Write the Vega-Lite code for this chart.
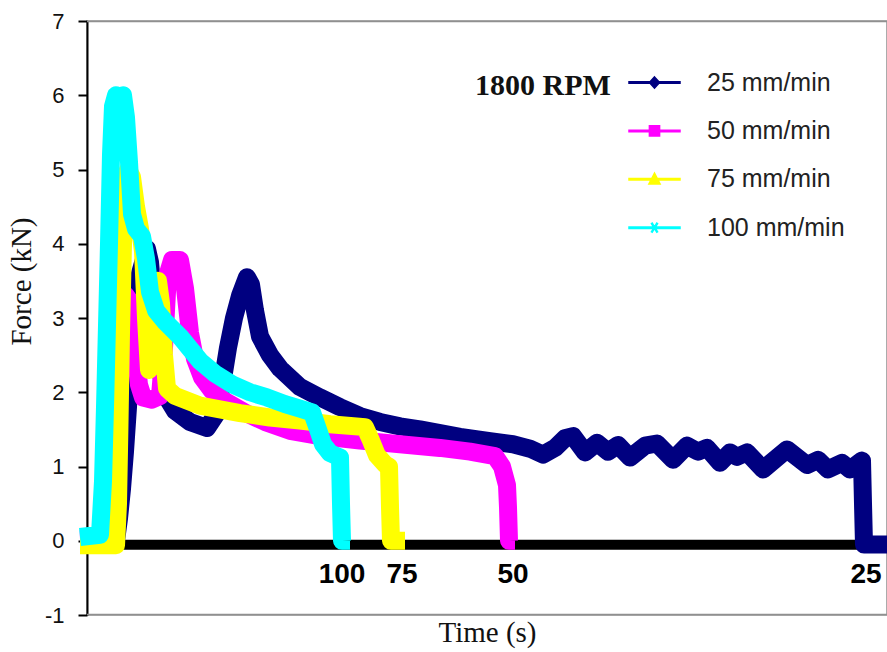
{
  "$schema": "https://vega.github.io/schema/vega-lite/v6.json",
  "width": 800,
  "height": 594,
  "autosize": {"type": "none"},
  "padding": {"left": 87, "top": 21, "right": 0, "bottom": 37},
  "config": {"view": {"stroke": "#909090", "strokeWidth": 1.5}, "font": "Liberation Sans"},
  "datasets": {
    "series": [
      {"s":"25 mm/min","t":-1.75,"f":0},{"s":"25 mm/min","t":3.25,"f":0},{"s":"25 mm/min","t":7.25,"f":0},{"s":"25 mm/min","t":8,"f":0.3},{"s":"25 mm/min","t":8.75,"f":0.7},{"s":"25 mm/min","t":9.5,"f":1.2},{"s":"25 mm/min","t":10.25,"f":1.8},{"s":"25 mm/min","t":11,"f":2.5},{"s":"25 mm/min","t":12,"f":3.1},{"s":"25 mm/min","t":13.25,"f":3.6},{"s":"25 mm/min","t":15,"f":3.93},{"s":"25 mm/min","t":15.75,"f":3.75},{"s":"25 mm/min","t":17,"f":3.0},{"s":"25 mm/min","t":18.25,"f":2.3},{"s":"25 mm/min","t":19.75,"f":1.95},{"s":"25 mm/min","t":22,"f":1.75},{"s":"25 mm/min","t":25.75,"f":1.6},{"s":"25 mm/min","t":30,"f":1.52},{"s":"25 mm/min","t":32.25,"f":1.7},{"s":"25 mm/min","t":33.75,"f":2.1},{"s":"25 mm/min","t":35.25,"f":2.6},{"s":"25 mm/min","t":36.75,"f":3.0},{"s":"25 mm/min","t":38.25,"f":3.3},{"s":"25 mm/min","t":40,"f":3.55},{"s":"25 mm/min","t":41,"f":3.45},{"s":"25 mm/min","t":42,"f":3.1},{"s":"25 mm/min","t":43.25,"f":2.75},{"s":"25 mm/min","t":45.75,"f":2.5},{"s":"25 mm/min","t":48.25,"f":2.32},{"s":"25 mm/min","t":53.25,"f":2.07},{"s":"25 mm/min","t":58.25,"f":1.93},{"s":"25 mm/min","t":63.25,"f":1.8},{"s":"25 mm/min","t":68.25,"f":1.68},{"s":"25 mm/min","t":73.25,"f":1.6},{"s":"25 mm/min","t":78.25,"f":1.54},{"s":"25 mm/min","t":83.25,"f":1.5},{"s":"25 mm/min","t":88.25,"f":1.45},{"s":"25 mm/min","t":93.25,"f":1.4},{"s":"25 mm/min","t":100.75,"f":1.34},{"s":"25 mm/min","t":106.5,"f":1.3},{"s":"25 mm/min","t":110.75,"f":1.24},{"s":"25 mm/min","t":114,"f":1.16},{"s":"25 mm/min","t":117,"f":1.25},{"s":"25 mm/min","t":119.5,"f":1.38},{"s":"25 mm/min","t":121.5,"f":1.41},{"s":"25 mm/min","t":124.5,"f":1.19},{"s":"25 mm/min","t":127.5,"f":1.32},{"s":"25 mm/min","t":130.25,"f":1.2},{"s":"25 mm/min","t":132.75,"f":1.29},{"s":"25 mm/min","t":135.75,"f":1.12},{"s":"25 mm/min","t":139.5,"f":1.28},{"s":"25 mm/min","t":142.5,"f":1.31},{"s":"25 mm/min","t":146.5,"f":1.09},{"s":"25 mm/min","t":150,"f":1.28},{"s":"25 mm/min","t":152.75,"f":1.2},{"s":"25 mm/min","t":155,"f":1.25},{"s":"25 mm/min","t":158.25,"f":1.05},{"s":"25 mm/min","t":160.75,"f":1.19},{"s":"25 mm/min","t":162.5,"f":1.13},{"s":"25 mm/min","t":165,"f":1.19},{"s":"25 mm/min","t":169,"f":0.96},{"s":"25 mm/min","t":175,"f":1.23},{"s":"25 mm/min","t":180,"f":1.02},{"s":"25 mm/min","t":182.75,"f":1.09},{"s":"25 mm/min","t":185.25,"f":0.96},{"s":"25 mm/min","t":188.75,"f":1.05},{"s":"25 mm/min","t":190.75,"f":0.96},{"s":"25 mm/min","t":193.75,"f":1.08},{"s":"25 mm/min","t":194,"f":0.5},{"s":"25 mm/min","t":194.25,"f":-0.05},{"s":"25 mm/min","t":200,"f":-0.05},{"s":"25 mm/min","t":203,"f":-0.05},
      {"s":"50 mm/min","t":-1.75,"f":0.02},{"s":"50 mm/min","t":3.25,"f":0.03},{"s":"50 mm/min","t":4.25,"f":0.3},{"s":"50 mm/min","t":5,"f":1.0},{"s":"50 mm/min","t":5.75,"f":1.8},{"s":"50 mm/min","t":6.75,"f":2.6},{"s":"50 mm/min","t":8,"f":3.1},{"s":"50 mm/min","t":9.75,"f":3.3},{"s":"50 mm/min","t":11,"f":3.2},{"s":"50 mm/min","t":12,"f":2.6},{"s":"50 mm/min","t":13,"f":2.1},{"s":"50 mm/min","t":14,"f":1.93},{"s":"50 mm/min","t":16.25,"f":1.9},{"s":"50 mm/min","t":18.25,"f":1.95},{"s":"50 mm/min","t":19.25,"f":2.6},{"s":"50 mm/min","t":20.25,"f":3.6},{"s":"50 mm/min","t":21.25,"f":3.78},{"s":"50 mm/min","t":23.25,"f":3.78},{"s":"50 mm/min","t":24.5,"f":3.4},{"s":"50 mm/min","t":25.75,"f":2.8},{"s":"50 mm/min","t":27,"f":2.45},{"s":"50 mm/min","t":28.75,"f":2.2},{"s":"50 mm/min","t":31.25,"f":2.02},{"s":"50 mm/min","t":34.5,"f":1.88},{"s":"50 mm/min","t":39.75,"f":1.72},{"s":"50 mm/min","t":44.5,"f":1.6},{"s":"50 mm/min","t":50.75,"f":1.48},{"s":"50 mm/min","t":58.25,"f":1.41},{"s":"50 mm/min","t":68.25,"f":1.35},{"s":"50 mm/min","t":78.25,"f":1.3},{"s":"50 mm/min","t":88.25,"f":1.25},{"s":"50 mm/min","t":95.75,"f":1.2},{"s":"50 mm/min","t":102,"f":1.14},{"s":"50 mm/min","t":103.75,"f":1.0},{"s":"50 mm/min","t":105,"f":0.75},{"s":"50 mm/min","t":105.25,"f":0.45},{"s":"50 mm/min","t":105.5,"f":0},{"s":"50 mm/min","t":107,"f":0},
      {"s":"75 mm/min","t":-1.75,"f":-0.06},{"s":"75 mm/min","t":3.25,"f":-0.06},{"s":"75 mm/min","t":7.25,"f":-0.06},{"s":"75 mm/min","t":7.75,"f":0.5},{"s":"75 mm/min","t":8.1,"f":1.5},{"s":"75 mm/min","t":8.5,"f":2.8},{"s":"75 mm/min","t":9,"f":4.0},{"s":"75 mm/min","t":9.5,"f":4.8},{"s":"75 mm/min","t":10.25,"f":5.0},{"s":"75 mm/min","t":11.25,"f":4.9},{"s":"75 mm/min","t":12.25,"f":4.5},{"s":"75 mm/min","t":13.25,"f":4.2},{"s":"75 mm/min","t":14,"f":3.9},{"s":"75 mm/min","t":14.75,"f":3.0},{"s":"75 mm/min","t":15.5,"f":2.3},{"s":"75 mm/min","t":16.25,"f":2.6},{"s":"75 mm/min","t":17,"f":3.2},{"s":"75 mm/min","t":17.75,"f":3.5},{"s":"75 mm/min","t":18.5,"f":3.2},{"s":"75 mm/min","t":19.25,"f":2.5},{"s":"75 mm/min","t":20,"f":2.05},{"s":"75 mm/min","t":22,"f":1.95},{"s":"75 mm/min","t":28.25,"f":1.82},{"s":"75 mm/min","t":38.25,"f":1.72},{"s":"75 mm/min","t":45.75,"f":1.66},{"s":"75 mm/min","t":53.25,"f":1.62},{"s":"75 mm/min","t":60.75,"f":1.57},{"s":"75 mm/min","t":69.5,"f":1.53},{"s":"75 mm/min","t":71,"f":1.35},{"s":"75 mm/min","t":72.5,"f":1.15},{"s":"75 mm/min","t":74.5,"f":1.03},{"s":"75 mm/min","t":75.5,"f":1.0},{"s":"75 mm/min","t":75.75,"f":0.45},{"s":"75 mm/min","t":76,"f":0},{"s":"75 mm/min","t":79.5,"f":0},
      {"s":"100 mm/min","t":-1.75,"f":0.05},{"s":"100 mm/min","t":3.25,"f":0.08},{"s":"100 mm/min","t":4,"f":0.8},{"s":"100 mm/min","t":4.5,"f":1.8},{"s":"100 mm/min","t":5,"f":2.9},{"s":"100 mm/min","t":5.5,"f":4.0},{"s":"100 mm/min","t":6,"f":5.2},{"s":"100 mm/min","t":6.5,"f":5.85},{"s":"100 mm/min","t":7.25,"f":6.0},{"s":"100 mm/min","t":8,"f":5.9},{"s":"100 mm/min","t":9,"f":6.0},{"s":"100 mm/min","t":9.75,"f":5.7},{"s":"100 mm/min","t":10.5,"f":5.1},{"s":"100 mm/min","t":11.25,"f":4.4},{"s":"100 mm/min","t":12.25,"f":4.2},{"s":"100 mm/min","t":13.75,"f":4.1},{"s":"100 mm/min","t":14.75,"f":3.8},{"s":"100 mm/min","t":15.75,"f":3.35},{"s":"100 mm/min","t":17.25,"f":3.1},{"s":"100 mm/min","t":19.5,"f":2.95},{"s":"100 mm/min","t":23.25,"f":2.75},{"s":"100 mm/min","t":28.25,"f":2.42},{"s":"100 mm/min","t":32,"f":2.25},{"s":"100 mm/min","t":36.5,"f":2.1},{"s":"100 mm/min","t":40.75,"f":2.0},{"s":"100 mm/min","t":45,"f":1.93},{"s":"100 mm/min","t":49.5,"f":1.84},{"s":"100 mm/min","t":53.25,"f":1.78},{"s":"100 mm/min","t":56.25,"f":1.73},{"s":"100 mm/min","t":57.75,"f":1.5},{"s":"100 mm/min","t":59,"f":1.3},{"s":"100 mm/min","t":60.75,"f":1.18},{"s":"100 mm/min","t":63.25,"f":1.12},{"s":"100 mm/min","t":63.5,"f":0.5},{"s":"100 mm/min","t":63.75,"f":0},{"s":"100 mm/min","t":65.75,"f":0}
    ],
    "notes": [
      {"label":"100","t":63.75,"f":-0.566},
      {"label":"75","t":78.75,"f":-0.566},
      {"label":"50","t":106.5,"f":-0.566},
      {"label":"25","t":194.75,"f":-0.566}
    ],
    "frame": [
      {"a": 0, "b": 205, "y": 6.992},
      {"a": 0, "b": 205, "y": -0.992}
    ]
  },
  "layer": [
    {
      "data": {"name": "frame"},
      "mark": {"type": "rule", "color": "#909090", "strokeWidth": 1.5, "clip": false},
      "encoding": {
        "x": {"field": "a", "type": "quantitative"},
        "x2": {"field": "b"},
        "y": {"field": "y", "type": "quantitative"}
      }
    },
    {
      "data": {"values": [{"a": 7.75, "b": 192.75, "y": -0.054}]},
      "mark": {"type": "rule", "color": "#000000", "strokeWidth": 10},
      "encoding": {
        "x": {"field": "a", "type": "quantitative"},
        "x2": {"field": "b"},
        "y": {"field": "y", "type": "quantitative"}
      }
    },
    {
      "data": {"name": "series"},
      "mark": {"type": "point", "filled": true, "opacity": 0, "size": 10},
      "encoding": {
        "x": {"field": "t", "type": "quantitative"},
        "y": {"field": "f", "type": "quantitative"},
        "color": {
          "field": "s", "type": "nominal",
          "scale": {
            "domain": ["25 mm/min", "50 mm/min", "75 mm/min", "100 mm/min"],
            "range": ["#000080", "#FF00FF", "#FFFF00", "#00FFFF"]
          },
          "legend": {
            "orient": "none", "legendX": 388, "legendY": 35, "padding": 0,
            "title": "1800 RPM", "titleOrient": "left", "titleAnchor": "start",
            "titleFont": "Liberation Serif", "titleFontSize": 30, "titleFontWeight": "bold", "titleColor": "#111111",
            "titlePadding": 17, "titleBaseline": "line-top", "titleLineHeight": 61,
            "labelFont": "Liberation Sans", "labelFontSize": 25, "labelColor": "#222222", "labelOffset": 26,
            "symbolSize": 2601, "symbolOpacity": 1, "rowPadding": 8.4
          }
        },
        "shape": {
          "field": "s", "type": "nominal",
          "scale": {
            "domain": ["25 mm/min", "50 mm/min", "75 mm/min", "100 mm/min"],
            "range": [
              "M-1,-0.03H1V0.03H-1ZM0,-0.22L0.2,0L0,0.22L-0.2,0Z",
              "M-1,-0.03H1V0.03H-1ZM-0.2,-0.2H0.2V0.2H-0.2Z",
              "M-1,-0.03H1V0.03H-1ZM0,-0.24L0.22,0.18H-0.22Z",
              "M-1,-0.03H1V0.03H-1ZM-0.12,-0.16L-0.09,-0.18L0.12,0.16L0.09,0.18ZM0.12,-0.16L0.09,-0.18L-0.12,0.16L-0.09,0.18Z"
            ]
          },
          "legend": {
            "orient": "none", "legendX": 388, "legendY": 35, "padding": 0,
            "title": "1800 RPM", "titleOrient": "left", "titleAnchor": "start",
            "titleFont": "Liberation Serif", "titleFontSize": 30, "titleFontWeight": "bold", "titleColor": "#111111",
            "titlePadding": 17, "titleBaseline": "line-top", "titleLineHeight": 61,
            "labelFont": "Liberation Sans", "labelFontSize": 25, "labelColor": "#222222", "labelOffset": 26,
            "symbolSize": 2601, "symbolOpacity": 1, "rowPadding": 8.4
          }
        }
      }
    },
    {
      "data": {"name": "series"},
      "mark": {"type": "line", "strokeWidth": 18, "strokeJoin": "round", "strokeCap": "butt"},
      "encoding": {
        "x": {
          "field": "t", "type": "quantitative",
          "scale": {"domain": [0, 200], "nice": false, "zero": false},
          "axis": {
            "labels": false, "ticks": false, "grid": false, "domain": false,
            "title": "Time (s)", "titleFont": "Liberation Serif", "titleFontSize": 29,
            "titleFontWeight": "normal", "titleColor": "#111111", "titlePadding": 3
          }
        },
        "y": {
          "field": "f", "type": "quantitative",
          "scale": {"domain": [-1, 7], "nice": false, "zero": false},
          "axis": {
            "values": [-1, 0, 1, 2, 3, 4, 5, 6, 7],
            "labelExpr": "datum.value + ''",
            "grid": false,
            "domainColor": "#000000", "domainWidth": 2,
            "tickColor": "#000000", "tickWidth": 2, "tickSize": 9,
            "labelFont": "Liberation Sans", "labelFontSize": 22, "labelColor": "#111111", "labelPadding": 14,
            "title": "Force (kN)", "titleFont": "Liberation Serif", "titleFontSize": 29,
            "titleFontWeight": "normal", "titleColor": "#111111", "titlePadding": 8, "titleY": 260
          }
        },
        "stroke": {
          "field": "s", "type": "nominal",
          "scale": {
            "domain": ["25 mm/min", "50 mm/min", "75 mm/min", "100 mm/min"],
            "range": ["#000080", "#FF00FF", "#FFFF00", "#00FFFF"]
          },
          "legend": null
        }
      }
    },
    {
      "data": {"name": "notes"},
      "mark": {"type": "text", "font": "Liberation Sans", "fontSize": 28, "fontWeight": "bold", "align": "center", "baseline": "alphabetic", "color": "#000000"},
      "encoding": {
        "x": {"field": "t", "type": "quantitative"},
        "y": {"field": "f", "type": "quantitative"},
        "text": {"field": "label"}
      }
    }
  ]
}
